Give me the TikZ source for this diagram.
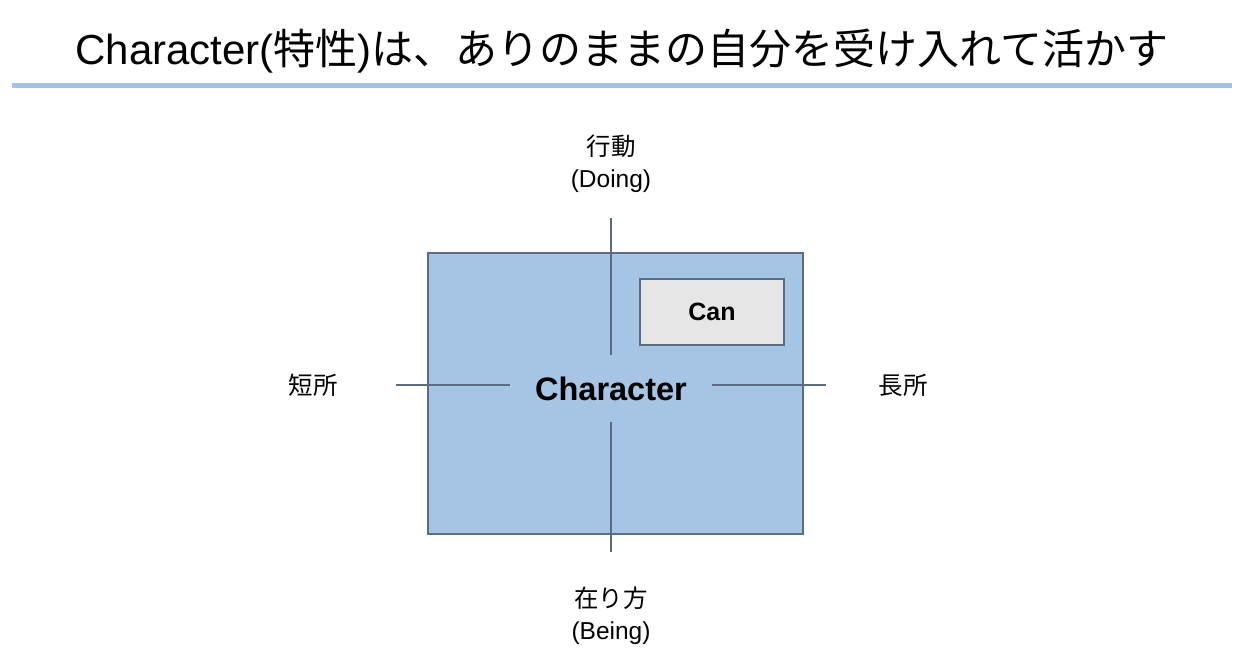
\documentclass[tikz,border=0pt]{standalone}
\usepackage{fontspec}
\setmainfont{Liberation Sans}
\newfontfamily\jp{Noto Sans CJK JP}
\usetikzlibrary{positioning}
\definecolor{PaleBlue}{RGB}{166, 196, 227}
\definecolor{RuleBlue}{RGB}{164, 194, 228}
\definecolor{EdgeSlate}{RGB}{91, 108, 128}
\definecolor{BoxGray}{RGB}{230, 230, 230}

\begin{document}
\begin{tikzpicture}[
    x=1pt, y=-1pt,
    heading/.style={font=\fontsize{42}{50}\selectfont, inner sep=0pt},
    axislabel/.style={align=center, inner sep=0pt, font=\fontsize{24.5}{32}\selectfont},
    axis/.style={draw=EdgeSlate, line width=1.1pt},
    panel/.style={rectangle, draw=EdgeSlate, fill=#1, line width=1.2pt, inner sep=0pt}
]
    \useasboundingbox (0, 0) rectangle (1248, 670);

    % Title and rule
    \node[heading] (title) at (622, 51) {Character({\jp 特性}){\jp は、ありのままの自分を受け入れて活かす}};
    \coordinate (ruleL) at (12, 85);
    \coordinate (ruleR) at (1232, 85);
    \draw[RuleBlue, line width=5pt] (ruleL) -- (ruleR);

    % Main panel
    \node[panel=PaleBlue, minimum width=375pt, minimum height=281pt] (char) at (615.5, 393.5) {};
    \node[font=\bfseries\fontsize{32.5}{38}\selectfont, inner sep=0pt] (charText) at (611, 389) {Character};
    \node[panel=BoxGray, minimum width=144pt, minimum height=66pt, font=\bfseries\fontsize{25}{30}\selectfont] (can) at (712, 312) {Can};

    % Axes
    \coordinate (topA) at (611, 218);
    \coordinate (topB) at (611, 355);
    \coordinate (botA) at (611, 422);
    \coordinate (botB) at (611, 552);
    \coordinate (leftA) at (396, 385);
    \coordinate (leftB) at (510, 385);
    \coordinate (rightA) at (712, 385);
    \coordinate (rightB) at (826, 385);
    \draw[axis] (topA) -- (topB);
    \draw[axis] (botA) -- (botB);
    \draw[axis] (leftA) -- (leftB);
    \draw[axis] (rightA) -- (rightB);

    % Axis labels
    \node[axislabel] (doing) at (611, 164) {{\jp 行動}\\(Doing)};
    \node[axislabel] (being) at (611, 616) {{\jp 在り方}\\(Being)};
    \node[axislabel, font=\jp\fontsize{24.5}{32}\selectfont] (weak) at (313, 385) {短所};
    \node[axislabel, font=\jp\fontsize{24.5}{32}\selectfont] (strong) at (903, 385) {長所};

\end{tikzpicture}
\end{document}
